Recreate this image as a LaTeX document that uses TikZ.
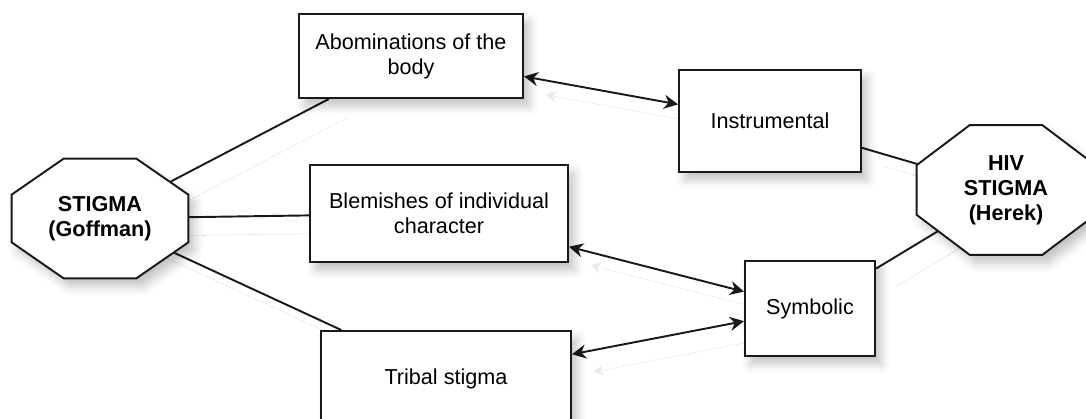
\documentclass[tikz,border=0pt]{standalone}
\usepackage{fontspec}
\setmainfont{Liberation Sans}
\usepackage{tikz}
\usetikzlibrary{arrows.meta, shadows.blur, backgrounds}
\definecolor{inkgray}{RGB}{25, 25, 25}

\tikzset{
  softshadow/.style={blur shadow={shadow xshift=0.12cm, shadow yshift=-0.16cm, shadow blur radius=0.18cm, shadow opacity=24}},
  typebox/.style={draw=inkgray, line width=1.1pt, fill=white, inner sep=0pt, align=center,
    font=\fontsize{12.3}{14.2}\selectfont, softshadow},
  stigmalabel/.style={inner sep=0pt, align=center, font=\fontsize{12.3}{14.2}\selectfont\bfseries},
  octline/.style={draw=inkgray, line width=1.1pt, fill=white, softshadow},
  link/.style={draw=inkgray, line width=1.1pt,
    preaction={draw=black!8, transform canvas={shift={(0.4, -0.36)}}}},
  bothway/.style={link, {Stealth[length=8pt, width=8pt]}-{Stealth[length=8pt, width=8pt]}}
}

\begin{document}
\begin{tikzpicture}
  \useasboundingbox (0, 0) rectangle (21.72, 8.38);

  % Goffman side
  \node[stigmalabel, minimum width=3.52cm, minimum height=2.38cm] (goffman) at (2.0, 4.01) {STIGMA\\(Goffman)};
  \node[typebox, minimum width=4.48cm, minimum height=1.68cm] (abom) at (8.22, 7.26) {Abominations of the\\body};
  \node[typebox, minimum width=5.16cm, minimum height=1.94cm] (blemish) at (8.78, 4.11) {Blemishes of individual\\character};
  \node[typebox, minimum width=5.0cm, minimum height=1.9cm] (tribal) at (8.92, 0.81) {Tribal stigma};

  % Herek side
  \node[typebox, minimum width=3.64cm, minimum height=2.04cm] (instr) at (15.40, 5.96) {Instrumental};
  \node[typebox, minimum width=2.60cm, minimum height=1.90cm] (symb) at (16.20, 2.21) {Symbolic};
  \node[stigmalabel, minimum width=3.56cm, minimum height=2.58cm] (herek) at (20.12, 4.58) {HIV\\STIGMA\\(Herek)};

  \begin{pgfonlayer}{background}
    % Plain links
    \draw[link] (goffman.center) -- (abom);
    \draw[link] (goffman.center) -- (blemish);
    \draw[link] (goffman.center) -- (tribal);
    \draw[link] (instr) -- (herek.center);
    \draw[link] (symb) -- (herek.center);

    % Two-way arrows
    \draw[bothway] (abom) -- (instr);
    \draw[bothway] (blemish) -- (symb);
    \draw[bothway] (tribal) -- (symb);

    % Octagons
    \draw[octline] ([xshift=1.04cm]goffman.north west) -- ([xshift=-1.04cm]goffman.north east)
      -- ([yshift=-0.72cm]goffman.north east) -- ([yshift=0.72cm]goffman.south east)
      -- ([xshift=-1.04cm]goffman.south east) -- ([xshift=1.04cm]goffman.south west)
      -- ([yshift=0.72cm]goffman.south west) -- ([yshift=-0.72cm]goffman.north west) -- cycle;
    \draw[octline] ([xshift=1.06cm]herek.north west) -- ([xshift=-1.06cm]herek.north east)
      -- ([yshift=-0.80cm]herek.north east) -- ([yshift=0.80cm]herek.south east)
      -- ([xshift=-1.06cm]herek.south east) -- ([xshift=1.06cm]herek.south west)
      -- ([yshift=0.80cm]herek.south west) -- ([yshift=-0.80cm]herek.north west) -- cycle;
  \end{pgfonlayer}
\end{tikzpicture}
\end{document}
